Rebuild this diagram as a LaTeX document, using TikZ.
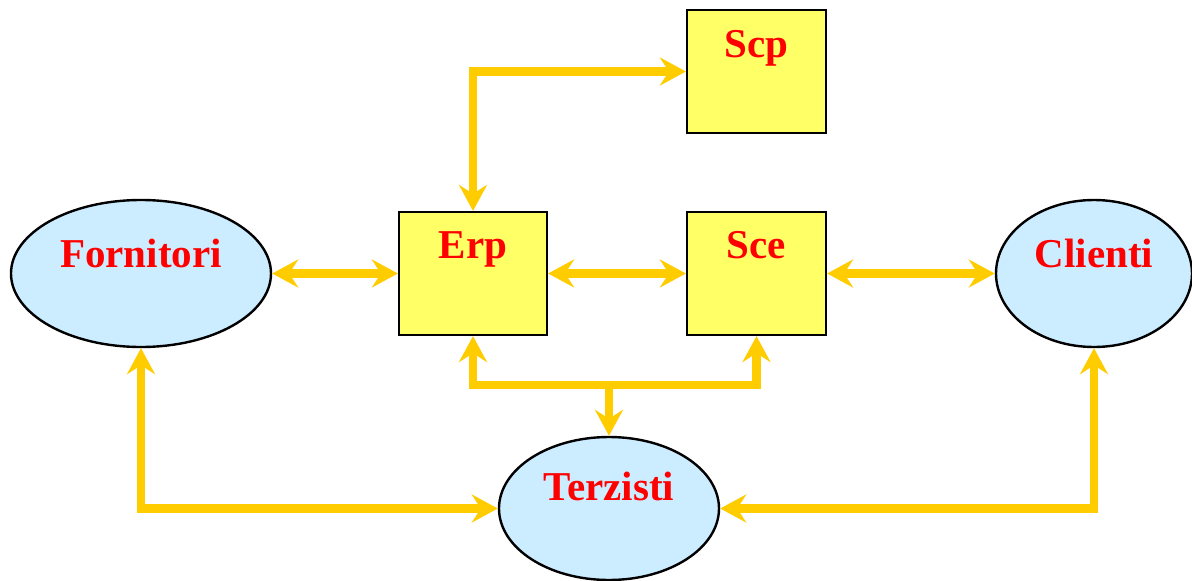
\documentclass[tikz,border=0pt]{standalone}
\usepackage{fontspec}
\setmainfont{Liberation Serif}
\usetikzlibrary{shapes.geometric,arrows.meta}
\definecolor{boxyellow}{HTML}{FFFF66}
\definecolor{ellblue}{HTML}{CCECFF}
\definecolor{arrgold}{HTML}{FFCC00}
\definecolor{labred}{HTML}{FF0000}
\tikzset{
  sq/.style={draw=black, line width=2.2pt, fill=boxyellow, rectangle, inner sep=0pt},
  ell/.style={draw=black, line width=2.4pt, fill=ellblue, ellipse, inner sep=0pt},
  lab/.style={text=labred, font=\fontsize{41}{48}\selectfont\bfseries, anchor=base, inner sep=0pt},
  arr/.style={draw=arrgold, line width=8.5pt, line join=miter,
    arrows={Stealth[length=26pt, width=28pt, inset=9pt]-Stealth[length=26pt, width=28pt, inset=9pt]}},
  arrone/.style={draw=arrgold, line width=8.5pt, line join=miter,
    -{Stealth[length=26pt, width=28pt, inset=9pt]}},
}
\begin{document}
\begin{tikzpicture}[x=1pt, y=-1pt]
\useasboundingbox (0,0) rectangle (1192,581);
% shapes
\node[ell, minimum width=260pt, minimum height=147pt] (forn) at (141,273.5) {};
\node[ell, minimum width=196pt, minimum height=147pt] (cli) at (1094,273.5) {};
\node[ell, minimum width=220pt, minimum height=143pt] (terz) at (609,508.5) {};
\node[sq, minimum width=148pt, minimum height=123pt] (erp) at (473,273.5) {};
\node[sq, minimum width=139pt, minimum height=123pt] (sce) at (756.5,273.5) {};
\node[sq, minimum width=139pt, minimum height=123pt] (scp) at (756.5,71.5) {};
% labels
\node[lab] (fornL) at ([yshift=6.5pt]forn.center) {Fornitori};
\node[lab] (cliL) at ([yshift=6.5pt]cli.center) {Clienti};
\node[lab] (terzL) at ([yshift=8.5pt]terz.center) {Terzisti};
\node[lab] (erpL) at ([yshift=15.5pt]erp.center) {Erp};
\node[lab] (sceL) at ([yshift=15.5pt]sce.center) {Sce};
\node[lab] (scpL) at ([yshift=14.5pt]scp.center) {Scp};
% connectors
\coordinate (j) at (609,385);
\draw[arr] (forn.east) -- (erp.west);
\draw[arr] (erp.east) -- (sce.west);
\draw[arr] (sce.east) -- (cli.west);
\draw[arr] (erp.north) |- (scp.west);
\draw[arr] (erp.south) |- (j) -| (sce.south);
\draw[arrone] (j) -- (terz.north);
\draw[arr] (forn.south) |- (terz.west);
\draw[arr] (cli.south) |- (terz.east);
\end{tikzpicture}
\end{document}
